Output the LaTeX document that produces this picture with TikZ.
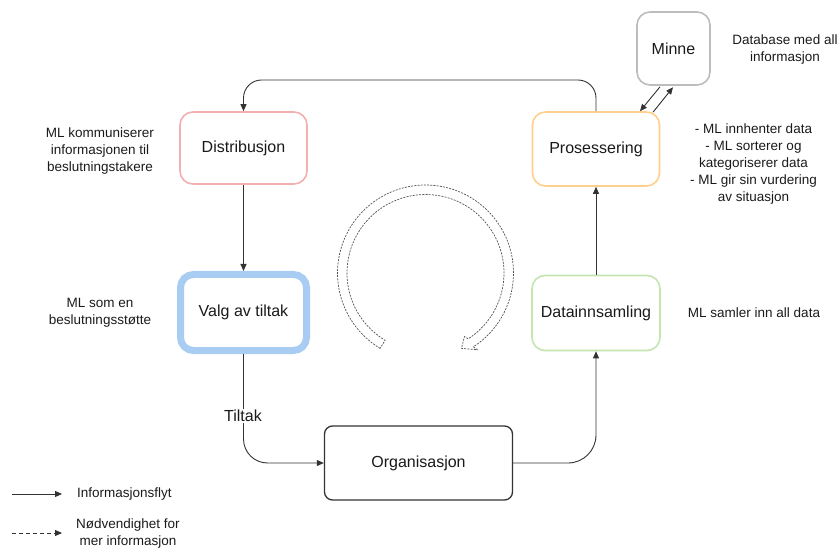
\documentclass[tikz,border=0pt]{standalone}
\usepackage{fontspec}
\setmainfont{Liberation Sans}
\usetikzlibrary{arrows.meta,calc}

\definecolor{txt}{HTML}{1A1A1A}
\definecolor{edge}{HTML}{333333}
\definecolor{pinkline}{HTML}{F4B0B0}
\definecolor{blueline}{HTML}{A9CDF2}
\definecolor{orangeline}{HTML}{FFD08C}
\definecolor{greenline}{HTML}{C4E4B0}
\definecolor{greyline}{HTML}{BDBDBD}

\tikzset{
  stage/.style={draw, rounded corners=13bp, line width=1.6bp, fill=white,
    minimum width=127bp, minimum height=72bp, inner sep=0pt,
    font=\fontsize{16bp}{19bp}\selectfont, text=txt},
  note/.style={align=center, inner sep=0pt, text=txt,
    font=\fontsize{13.5bp}{17bp}\selectfont},
  flow/.style={draw=edge, line width=0.9bp,
    -{Triangle[length=7bp,width=6bp]}},
  moreinfo/.style={flow, dash pattern=on 4bp off 3bp},
  cyc/.style={draw=edge!85, fill=white, line width=0.7bp,
    dash pattern=on 2bp off 1.2bp}
}

\begin{document}
\begin{tikzpicture}[x=1bp, y=-1bp]
\useasboundingbox (0,0) rectangle (837,549);

% process stages
\node[stage, draw=pinkline] (dist) at (243.5,148) {Distribusjon};
\node[stage, draw=blueline, line width=7bp, minimum width=126bp,
      minimum height=76bp] (valg) at (243.5,312.5) {Valg av tiltak};
\node[stage, draw=orangeline, minimum height=74bp] (pros) at (596,149) {Prosessering};
\node[stage, draw=greenline, minimum width=128bp, minimum height=75bp]
      (data) at (596,313) {Datainnsamling};
\node[stage, draw=edge, line width=1.3bp, rounded corners=8bp, minimum width=188bp,
      minimum height=74bp] (org) at (418.5,463) {Organisasjon};
\node[stage, draw=greyline, minimum width=73bp, minimum height=73bp]
      (minne) at (673.5,48.5) {Minne};

% information flow around the cycle
\coordinate (top) at (0,80);
\draw[flow, rounded corners=18bp] (pros.north) -- (pros.north |- top) -| (dist.north);
\draw[flow] (dist.south) -- (valg.north);
\draw[flow, rounded corners=24bp] (valg.south) |- (org.west);
\draw[flow, rounded corners=28bp] (org.east) -| (data.south);
\draw[flow] (data.north) -- (pros.north |- pros.south);
\node[fill=white, inner sep=1.5bp, text=txt,
      font=\fontsize{16bp}{19bp}\selectfont] (tiltak) at (243,416) {Tiltak};

% exchange with the memory store
\draw[flow] ($(minne.south)+(-13.5,1)$) -- ($(pros.north)+(44,0)$);
\draw[flow] ($(pros.north)+(57,1)$) -- ($(minne.south)+(-0.5,1.5)$);

% circular arrow in the middle
\begin{scope}[shift={(425.5,273)}]
  \draw[cyc] plot[domain=121:417, samples=100] (\x:88)
    -- (416:92.5) -- (424.5:83.5) -- (418.5:74.5) -- (417:78.5)
    -- plot[domain=417:121, samples=100] (\x:78.5) -- cycle;
\end{scope}

% side notes
\node[note] (n1) at (100,151) {ML kommuniserer\\informasjonen til\\beslutningstakere};
\node[note] (n2) at (100,313) {ML som en\\beslutningsstøtte};
\node[note] (n3) at (785,50) {Database med all\\informasjon};
\node[note] (n4) at (753.5,164) {- ML innhenter data\\- ML sorterer og\\kategoriserer data\\- ML gir sin vurdering\\av situasjon};
\node[note] (n5) at (754,313) {ML samler inn all data};

% legend
\coordinate (l1a) at (12,494);
\coordinate (l1b) at (62,494);
\coordinate (l2a) at (12,533);
\coordinate (l2b) at (62,533);
\draw[flow] (l1a) -- (l1b);
\draw[moreinfo] (l2a) -- (l2b);
\node[note, anchor=west] (leg1) at (77,494) {Informasjonsflyt};
\node[note, anchor=west] (leg2) at (76,534) {Nødvendighet for\\mer informasjon};
\end{tikzpicture}
\end{document}
